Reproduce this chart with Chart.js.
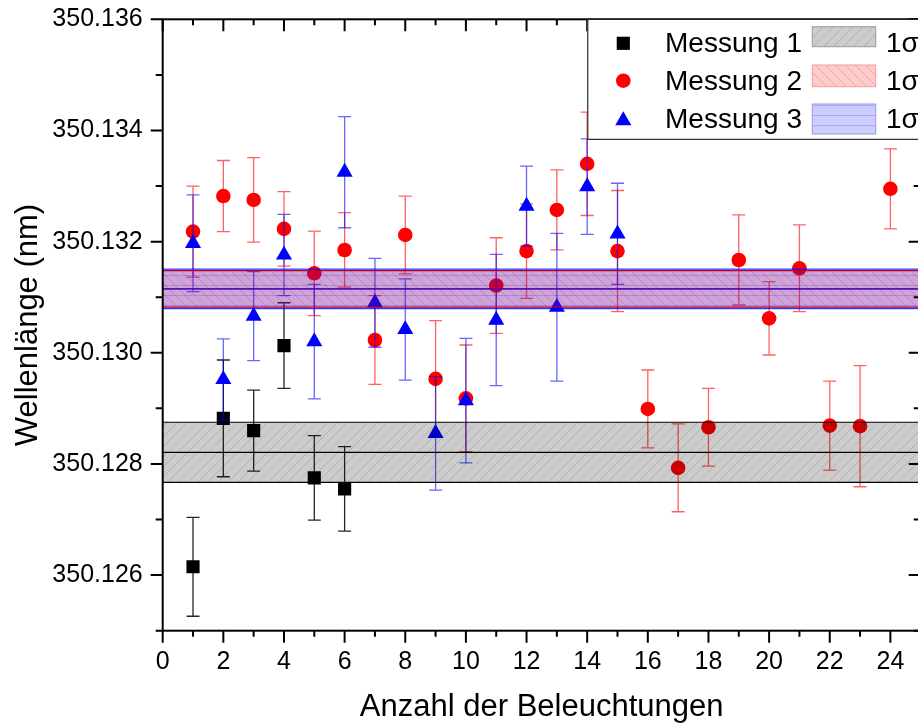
<!DOCTYPE html>
<html>
<head>
<meta charset="utf-8">
<script src="https://cdn.jsdelivr.net/npm/chart.js@4.4.1/dist/chart.umd.min.js"></script>
<style>
  html, body { margin: 0; padding: 0; background: #fff; overflow: hidden; }
  #wrap { width: 930px; height: 728px; }
</style>
</head>
<body>
<div id="wrap"><canvas id="chart" width="930" height="728"></canvas></div>
<script>
// Messung 1
const runs1 = [1, 2, 3, 4, 5, 6]
const wave1 = [350.12615, 350.12882, 350.12860, 350.13013, 350.12775, 350.12755]
const err1 = [0.00089, 0.00105, 0.00073, 0.00077, 0.00076, 0.00076]

// Messung 2
const runs2 = [1, 2, 3, 4, 5, 6, 7, 8, 9, 10, 11, 12, 13, 14, 15, 16, 17, 18, 19, 20, 21, 22, 23, 24]
const wave2 = [350.13218, 350.13282, 350.13275, 350.13223, 350.13143, 350.13185, 350.13023, 350.13212,
  350.12953, 350.12918, 350.13121, 350.13183, 350.13257, 350.13340, 350.13183, 350.12899,
  350.12793, 350.12866, 350.13167, 350.13062, 350.13152, 350.12869, 350.12868, 350.13295]
const err2 = [0.00082, 0.00064, 0.00076, 0.00067, 0.00076, 0.00067, 0.00080, 0.00070,
  0.00105, 0.00096, 0.00086, 0.00085, 0.00072, 0.00093, 0.00109, 0.00070,
  0.00079, 0.00070, 0.00081, 0.00066, 0.00078, 0.00080, 0.00109, 0.00072]

// Messung 3
const runs3 = [1, 2, 3, 4, 5, 6, 7, 8, 9, 10, 11, 12, 13, 14, 15]
const wave3 = [350.13197, 350.12952, 350.13066, 350.13176, 350.13020, 350.13325, 350.13090, 350.13042,
  350.12855, 350.12914, 350.13059, 350.13264, 350.13082, 350.13299, 350.13214]
const err3 = [0.00087, 0.00073, 0.00080, 0.00073, 0.00103, 0.00100, 0.00080, 0.00091,
  0.00102, 0.00112, 0.00118, 0.00072, 0.00133, 0.00086, 0.00091]

// mean and 1 sigma band per series
const bandMean = [350.12821, 350.13115, 350.13115]
const bandSigma = [0.00054, 0.00033, 0.000357]

const seriesNames = ['Messung 1', 'Messung 2', 'Messung 3']
const xRange = [0, 25]
const yRange = [350.125, 350.136]

Chart.defaults.font.family = "'Liberation Sans', Arial, sans-serif"
Chart.defaults.color = '#000'

function hatch (base, line, kind) {
  const c = document.createElement('canvas')
  c.width = 10
  c.height = 10
  const g = c.getContext('2d')
  g.fillStyle = base
  g.fillRect(0, 0, 10, 10)
  g.strokeStyle = line
  g.lineWidth = 1
  g.beginPath()
  if (kind === '/') {
    g.moveTo(-1, 11); g.lineTo(11, -1)
    g.moveTo(-1, 1); g.lineTo(1, -1)
    g.moveTo(9, 11); g.lineTo(11, 9)
  } else if (kind === '\\') {
    g.moveTo(-1, -1); g.lineTo(11, 11)
    g.moveTo(9, -1); g.lineTo(11, 1)
    g.moveTo(-1, 9); g.lineTo(1, 11)
  } else {
    g.moveTo(0, 5.5); g.lineTo(10, 5.5)
  }
  g.stroke()
  return g.createPattern(c, 'repeat')
}

const fills = [
  hatch('rgba(0,0,0,0.2)', 'rgba(0,0,0,0.13)', '/'),
  hatch('rgba(255,0,0,0.2)', 'rgba(255,0,0,0.22)', '\\'),
  hatch('rgba(0,0,255,0.2)', 'rgba(0,0,255,0.18)', '-')
]
const bandLines = ['#000', '#e00000', 'rgba(0,0,255,0.75)']
const patchBorders = ['#999', '#e8a0a0', '#9a9ad8']

function flat (y) {
  return [{ x: xRange[0], y: y }, { x: xRange[1], y: y }]
}

function bandSets (i) {
  const common = { type: 'line', pointRadius: 0, borderColor: bandLines[i], borderWidth: 1.2, order: 0 }
  return [
    Object.assign({ data: flat(bandMean[i] + bandSigma[i]), fill: '+1', backgroundColor: fills[i] }, common),
    Object.assign({ data: flat(bandMean[i] - bandSigma[i]), fill: false }, common),
    Object.assign({ data: flat(bandMean[i]), fill: false }, common)
  ]
}

function points (xs, ys) {
  return xs.map((x, i) => ({ x: x, y: ys[i] }))
}

const datasets = [
  ...bandSets(0),
  ...bandSets(2),
  ...bandSets(1),
  {
    label: seriesNames[2], data: points(runs3, wave3), errors: err3, errorColor: 'rgba(0,0,255,0.6)',
    pointStyle: 'triangle', radius: 9.3, backgroundColor: '#0000ff', borderWidth: 0, order: 1
  },
  {
    label: seriesNames[1], data: points(runs2, wave2), errors: err2, errorColor: 'rgba(255,0,0,0.62)',
    pointStyle: 'circle', radius: 7.3, backgroundColor: '#ff0000', borderWidth: 0, order: 2
  },
  {
    label: seriesNames[0], data: points(runs1, wave1), errors: err1, errorColor: 'rgba(0,0,0,0.85)',
    pointStyle: 'rect', radius: 9.3, backgroundColor: '#000', borderWidth: 0, order: 3
  }
]

// vertical error bars with caps, drawn just before each series' markers
const errorBars = {
  id: 'errorBars',
  beforeDatasetDraw (chart, args) {
    const ds = chart.data.datasets[args.index]
    if (!ds.errors) return
    const y = chart.scales.y
    const ctx = chart.ctx
    ctx.save()
    ctx.strokeStyle = ds.errorColor
    ctx.lineWidth = 1.3
    args.meta.data.forEach((pt, i) => {
      const v = ds.data[i].y
      const e = ds.errors[i]
      const top = y.getPixelForValue(v + e)
      const bot = y.getPixelForValue(v - e)
      ctx.beginPath()
      ctx.moveTo(pt.x, top); ctx.lineTo(pt.x, bot)
      ctx.moveTo(pt.x - 6.5, top); ctx.lineTo(pt.x + 6.5, top)
      ctx.moveTo(pt.x - 6.5, bot); ctx.lineTo(pt.x + 6.5, bot)
      ctx.stroke()
    })
    ctx.restore()
  }
}

// box frame with major/minor ticks, then the legend box
const frame = {
  id: 'frame',
  afterDraw (chart) {
    const { ctx, chartArea: a, scales } = chart
    ctx.save()
    ctx.strokeStyle = '#000'
    ctx.lineWidth = 2
    ctx.strokeRect(a.left, a.top, a.right - a.left, a.bottom - a.top)
    ctx.beginPath()
    for (let k = 0; k <= 11; k++) {
      const v = 350.125 + k * 0.001
      const py = scales.y.getPixelForValue(v)
      const len = (125 + k) % 2 === 0 ? 12 : 7
      ctx.moveTo(a.left - len, py); ctx.lineTo(a.left, py)
      ctx.moveTo(a.right, py); ctx.lineTo(a.right - len, py)
    }
    for (let n = xRange[0]; n <= xRange[1]; n++) {
      const px = scales.x.getPixelForValue(n)
      const len = n % 2 === 0 ? 12 : 6
      ctx.moveTo(px, a.bottom); ctx.lineTo(px, a.bottom + len)
      ctx.moveTo(px, a.top); ctx.lineTo(px, a.top + len)
    }
    ctx.stroke()

    // legend
    const lx = 587.3
    ctx.fillStyle = '#fff'
    ctx.fillRect(lx, a.top, 400, 120)
    ctx.lineWidth = 1
    ctx.strokeRect(lx + 0.5, a.top, 400, 120)

    const markerY = [43.3, 80.7, 120.6]
    const textY = [51.7, 90, 128.3]
    const patchY = [[26.7, 20], [65, 21.7], [104, 30]]
    const styles = [['rect', 9.3, '#000'], ['circle', 7.3, '#ff0000'], ['triangle', 9.3, '#0000ff']]
    ctx.font = "28px 'Liberation Sans', Arial, sans-serif"
    ctx.textBaseline = 'alphabetic'
    for (let i = 0; i < 3; i++) {
      ctx.fillStyle = styles[i][2]
      Chart.helpers.drawPoint(ctx, { pointStyle: styles[i][0], radius: styles[i][1], rotation: 0, borderWidth: 0 }, 623.3, markerY[i])
      ctx.fillStyle = '#fff'
      ctx.fillRect(812.3, patchY[i][0], 63.4, patchY[i][1])
      ctx.fillStyle = fills[i]
      ctx.fillRect(812.3, patchY[i][0], 63.4, patchY[i][1])
      ctx.strokeStyle = patchBorders[i]
      ctx.strokeRect(812.3, patchY[i][0], 63.4, patchY[i][1])
      ctx.fillStyle = '#000'
      ctx.fillText(seriesNames[i], 665, textY[i])
      ctx.fillText('1σ', 886, textY[i])
    }
    ctx.restore()
  }
}

// keep the plot box at a fixed place: no extra room for overhanging tick labels
function noOverhang (s) {
  s.paddingTop = 0
  s.paddingBottom = 0
  s.paddingLeft = 0
  s.paddingRight = 0
}

new Chart(document.getElementById('chart'), {
  type: 'scatter',
  data: { datasets: datasets },
  options: {
    responsive: false,
    animation: false,
    events: [],
    layout: { padding: { top: 19.3, right: 7.9, left: 0, bottom: 0 } },
    plugins: { legend: { display: false }, tooltip: { enabled: false } },
    scales: {
      x: {
        type: 'linear',
        min: xRange[0],
        max: xRange[1],
        grid: { display: false, drawTicks: false },
        border: { display: false },
        ticks: {
          stepSize: 1,
          autoSkip: false,
          maxRotation: 0,
          padding: 16,
          font: { size: 25 },
          callback: v => (v % 2 === 0 && v < 25) ? String(v) : ''
        },
        title: { display: true, text: 'Anzahl der Beleuchtungen', font: { size: 31 }, padding: { top: 0, bottom: 2 } },
        afterFit: s => { s.height = 97.3; noOverhang(s) }
      },
      y: {
        type: 'linear',
        min: yRange[0],
        max: yRange[1],
        grid: { display: false, drawTicks: false },
        border: { display: false },
        ticks: {
          stepSize: 0.001,
          autoSkip: false,
          padding: 20,
          font: { size: 25 },
          callback: v => Math.round(v * 1000) % 2 === 0 ? v.toFixed(3) : ''
        },
        title: { display: true, text: 'Wellenlänge (nm)', font: { size: 31 }, padding: { top: 10, bottom: 0 } },
        afterFit: s => { s.width = 162.7; noOverhang(s) }
      }
    }
  },
  plugins: [errorBars, frame]
})
</script>
</body>
</html>
